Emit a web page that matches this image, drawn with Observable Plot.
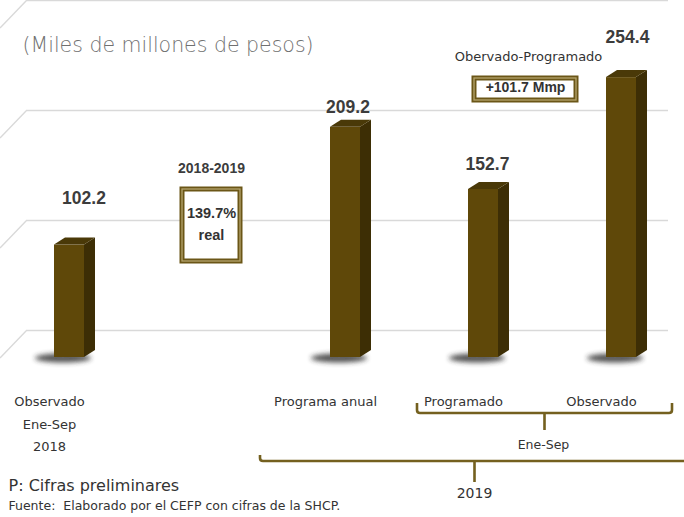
<!DOCTYPE html>
<html><head><meta charset="utf-8">
<script src="https://cdn.jsdelivr.net/npm/d3@7"></script>
<script src="https://cdn.jsdelivr.net/npm/@observablehq/plot@0.6"></script>
<style>body{margin:0;background:#fff;} svg{display:block}</style>
</head><body><div id="chart"></div>
<script>
// ---- data ----
const slots = ["Observado Ene-Sep 2018", "2018-2019", "Programa anual", "Programado Ene-Sep 2019", "Observado Ene-Sep 2019"];
const barCategories = ["Observado Ene-Sep 2018", "Programa anual", "Programado Ene-Sep 2019", "Observado Ene-Sep 2019"];
const barValues = [102.2, 209.2, 152.7, 254.4];
const valueLabels = ["102.2", "209.2", "152.7", "254.4"];
const tickLabels = ["Observado\nEne-Sep\n2018", "Programa anual", "Programado", "Observado"];
const gridValues = [0, 100, 200, 300];
const subtitle = "(Miles de millones de pesos)";
const variationTitle = "2018-2019";
const variationText = "139.7%\nreal";
const diffTitle = "Obervado-Programado";
const diffText = "+101.7 Mmp";
const groupLabels = ["Ene-Sep", "2019"];
const notes = ["P: Cifras preliminares", "Fuente:  Elaborado por el CEFP con cifras de la SHCP."];

const bars = barCategories.map((c, i) => ({key: c, value: barValues[i], label: valueLabels[i], tick: tickLabels[i]}));

// ---- styles ----
const front = "#5f4809", side = "#3d2e05", topc = "#4a3908";
const gridColor = "#d9d9d9", brown = "#6b5617";
const boldFont = "'Liberation Sans', Arial, sans-serif";
const lightFont = "'DejaVu Sans', sans-serif";

function gridDiagonals(index, scales) {
  const y = scales.y;
  const g = d3.create("svg:g").attr("stroke", gridColor).attr("stroke-width", 1.4);
  for (const v of gridValues) {
    g.append("line").attr("x1", 0).attr("y1", y(v) + 1).attr("x2", 27).attr("y2", y(v) - 27);
  }
  return g.node();
}

function bars3d(index, scales) {
  const {x, y} = scales;
  const g = d3.create("svg:g");
  const f = g.append("defs").append("filter").attr("id", "shblur").attr("x", "-50%").attr("y", "-100%").attr("width", "200%").attr("height", "300%");
  f.append("feGaussianBlur").attr("stdDeviation", 2.6);
  const w = 30, dx = 11, dy = -7;
  for (const d of bars) {
    const cx = x(d.key), yt = y(d.value), yb = y(0);
    const l = cx - w / 2, r = cx + w / 2;
    g.append("ellipse").attr("cx", cx - 6).attr("cy", yb + 1).attr("rx", 28).attr("ry", 4.5)
      .attr("fill", "#2a2a2a").attr("opacity", 0.8).attr("filter", "url(#shblur)");
    g.append("rect").attr("x", l).attr("y", yt).attr("width", w).attr("height", yb - yt).attr("fill", front);
    g.append("polygon").attr("points", [[r, yt], [r + dx, yt + dy], [r + dx, yb + dy], [r, yb]].join(" ")).attr("fill", side);
    g.append("polygon").attr("points", [[l, yt], [l + dx, yt + dy], [r + dx, yt + dy], [r, yt]].join(" ")).attr("fill", topc);
  }
  return g.node();
}

function brackets(index, scales) {
  const x = scales.x;
  const g = d3.create("svg:g").attr("fill", "none").attr("stroke", "#74601f").attr("stroke-width", 2.6);
  function br(x1, x2, yTop, yMid, yStem) {
    const xm = (x1 + x2) / 2;
    g.append("path").attr("d",
      `M${x1},${yTop} L${x1},${yMid - 3} Q${x1},${yMid} ${x1 + 3},${yMid} L${x2 - 3},${yMid} Q${x2},${yMid} ${x2},${yMid - 3} L${x2},${yTop} M${xm},${yMid} L${xm},${yStem}`);
  }
  br(x("Programado Ene-Sep 2019") - 66, x("Observado Ene-Sep 2019") + 51, 403, 413, 430);
  br(x("Programa anual") - 85, x("Observado Ene-Sep 2019") + 68, 455, 461, 482);
  return g.node();
}

function boxes(index, scales) {
  const x = scales.x;
  const g = d3.create("svg:g");
  function box(x1, y1, x2, y2) {
    g.append("rect").attr("x", x1).attr("y", y1).attr("width", x2 - x1).attr("height", y2 - y1)
      .attr("fill", "#fff").attr("stroke", brown).attr("stroke-width", 5);
    g.append("rect").attr("x", x1).attr("y", y1).attr("width", x2 - x1).attr("height", y2 - y1)
      .attr("fill", "none").attr("stroke", "#b5a56e").attr("stroke-width", 1.3);
  }
  const cv = x("2018-2019");
  box(cv - 25, 189, cv + 33, 261);
  const cp = x("Programado Ene-Sep 2019");
  box(cp - 9, 78, cp + 93, 100);
  return g.node();
}

const valueOffsets = [[14.5, -46.5], [2.5, -20], [4, -25], [6, -40]];

const chart = Plot.plot({
  width: 684, height: 517,
  marginTop: 0, marginBottom: 160, marginLeft: 0, marginRight: 0,
  style: {background: "#fff", fontFamily: lightFont},
  x: {type: "point", domain: slots, range: [67.5, 622], padding: 0, axis: null},
  y: {domain: [0, 324.5], axis: null},
  marks: [
    Plot.ruleY(gridValues, {y: d => d, dy: -27, insetLeft: 27, insetRight: 16, stroke: gridColor, strokeWidth: 1.4}),
    gridDiagonals,
    bars3d,
    ...bars.map((d, i) => Plot.text([d], {x: "key", y: "value", text: "label", dx: valueOffsets[i][0], dy: valueOffsets[i][1],
      fontFamily: boldFont, fontWeight: "bold", fontSize: 17.5, fill: "#3c3c3c"})),
    Plot.text(bars, {x: "key", text: "tick", frameAnchor: "bottom", dx: -20, dy: 33, lineAnchor: "top",
      lineHeight: 1.72, fontSize: 13, fill: "#333"}),
    brackets,
    Plot.text([groupLabels[0]], {x: () => "Programado Ene-Sep 2019", frameAnchor: "bottom", dx: 60, dy: 91, fontSize: 12.5, fill: "#333"}),
    Plot.text([groupLabels[1]], {x: () => "Programado Ene-Sep 2019", frameAnchor: "bottom", dx: -9, dy: 140, fontSize: 14, fill: "#333"}),
    boxes,
    Plot.text([variationTitle], {x: () => "2018-2019", frameAnchor: "bottom", dx: 4, dy: -185,
      fontFamily: boldFont, fontWeight: "bold", fontSize: 14, fill: "#3c3c3c"}),
    Plot.text([variationText], {x: () => "2018-2019", frameAnchor: "bottom", dx: 4, dy: -118, lineHeight: 1.5,
      fontFamily: boldFont, fontWeight: "bold", fontSize: 14.5, fill: "#333"}),
    Plot.text([diffTitle], {x: () => "Programado Ene-Sep 2019", frameAnchor: "bottom", dx: 45, dy: -297, fontSize: 13, fill: "#333"}),
    Plot.text([diffText], {x: () => "Programado Ene-Sep 2019", frameAnchor: "bottom", dx: 42, dy: -266,
      fontFamily: boldFont, fontWeight: "bold", fontSize: 14, fill: "#333"}),
    Plot.text([subtitle], {frameAnchor: "top-left", dx: 22, dy: 37, textAnchor: "start", fontSize: 20.5, fontWeight: 300, fill: "#707070"}),
    Plot.text([notes[0]], {frameAnchor: "bottom-left", dx: 8, dy: 133, textAnchor: "start", fontSize: 16, fill: "#333"}),
    Plot.text([notes[1]], {frameAnchor: "bottom-left", dx: 8, dy: 152, textAnchor: "start", fontSize: 12.5, fill: "#333"})
  ]
});
document.getElementById("chart").appendChild(chart);
</script>
</body></html>
